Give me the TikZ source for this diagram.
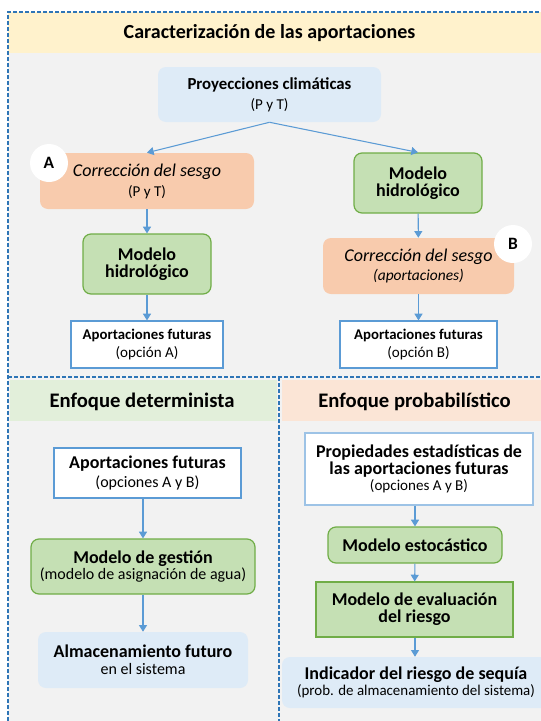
\documentclass[tikz,border=0pt]{standalone}
\usepackage{fontspec}
\setmainfont{Carlito}
\usetikzlibrary{arrows.meta}
\definecolor{yelhd}{HTML}{FFF2CC}
\definecolor{bggray}{HTML}{F2F2F2}
\definecolor{grnhd}{HTML}{E2EFDA}
\definecolor{pchhd}{HTML}{FBE5D6}
\definecolor{ltblue}{HTML}{DEEBF7}
\definecolor{peachfill}{HTML}{F8CBAD}
\definecolor{grnfill}{HTML}{C5E0B4}
\definecolor{grnline}{HTML}{70AD47}
\definecolor{bluline}{HTML}{5B9BD5}
\definecolor{lightbluline}{HTML}{9DC3E6}
\definecolor{dashblue}{HTML}{2E75B6}
\definecolor{arrblue}{HTML}{5B9BD5}
\newcommand{\mainfnt}{\fontsize{13.5}{16}\selectfont\bfseries}
\newcommand{\proyfnt}{\fontsize{12.6}{15}\selectfont\bfseries}
\newcommand{\smallmain}{\fontsize{11.1}{13}\selectfont\bfseries}
\newcommand{\subfnt}{\fontsize{11.3}{13}\selectfont}
\newcommand{\bigsub}{\fontsize{12}{14}\selectfont}
\tikzset{
 base/.style={align=center, inner sep=0pt, text=black},
 bluebox/.style={base, fill=ltblue, rounded corners=6pt},
 peachbox/.style={base, fill=peachfill, rounded corners=6pt},
 greenbox/.style={base, fill=grnfill, draw=grnline, line width=0.9pt, rounded corners=6pt},
 greensq/.style={base, fill=grnfill, draw=grnline, line width=0.9pt},
 whitebox/.style={base, fill=white, draw=bluline, line width=0.9pt},
 whitelight/.style={base, fill=white, draw=lightbluline, line width=0.9pt},
 badge/.style={circle, fill=white, minimum size=28.5pt, inner sep=0pt, font=\fontsize{13}{15}\selectfont\bfseries},
 arr/.style={draw=arrblue, line width=0.8pt, -{Triangle[length=5pt,width=6pt]}},
 divider/.style={draw=dashblue, line width=0.9pt, dash pattern=on 3pt off 1.5pt},
 header/.style={font=\fontsize{15}{18}\selectfont\bfseries, inner sep=0pt},
 subheader/.style={font=\fontsize{15.5}{18}\selectfont\bfseries, inner sep=0pt},
}
\begin{document}
\begin{tikzpicture}[x=0.75pt,y=-0.75pt]
\useasboundingbox (0,0) rectangle (541,721);
% backgrounds
\fill[bggray] (8,12) rectangle (541,721);
\fill[yelhd] (8,12) rectangle (541,53);
\fill[grnhd] (10,380) rectangle (277,421);
\fill[pchhd] (282,380) rectangle (541,421);
\draw[divider] (8,721) -- (8,12) -- (541,12);
\draw[divider] (8,377) -- (541,377);
\draw[divider] (279,377) -- (279,721);
% headers
\node[header] (title) at (269.5,33) {Caracterización de las aportaciones};
\node[subheader] (hdet) at (142,402) {Enfoque determinista};
\node[subheader] (hprob) at (414.5,402) {Enfoque probabilístico};
% top part
\node[bluebox, minimum width=167.25pt, minimum height=41.25pt] (proy) at (269.5,94.5)
  {{\proyfnt Proyecciones climáticas}\\[3pt]{\subfnt (P y T)}};
\node[peachbox, minimum width=160.5pt, minimum height=42pt] (corrA) at (147,181)
  {{\fontsize{13.5}{16}\selectfont\itshape Corrección del sesgo}\\[3pt]{\subfnt (P y T)}};
\node[badge] (bA) at (49,163) {A};
\node[greenbox, minimum width=96pt, minimum height=45pt] (hidA) at (147,264)
  {\mainfnt Modelo\\[1pt]\mainfnt hidrológico};
\node[whitebox, minimum width=114pt, minimum height=35.25pt] (apA) at (147,344.5)
  {{\smallmain Aportaciones futuras}\\[2pt]{\subfnt (opción A)}};
\node[greenbox, minimum width=96pt, minimum height=45pt] (hidB) at (418,183)
  {\mainfnt Modelo\\[1pt]\mainfnt hidrológico};
\node[peachbox, minimum width=143.25pt, minimum height=42pt] (corrB) at (418.5,266)
  {{\fontsize{13.5}{16}\selectfont\itshape Corrección del sesgo}\\[2pt]{\fontsize{11.6}{13}\selectfont\itshape (aportaciones)}};
\node[badge] (bB) at (513,244) {B};
\node[whitebox, minimum width=117.75pt, minimum height=35.25pt] (apB) at (418.5,344.5)
  {{\smallmain Aportaciones futuras}\\[2pt]{\subfnt (opción B)}};
% bottom left
\node[whitebox, minimum width=140.25pt, minimum height=37.5pt] (apAB) at (147.5,473)
  {{\mainfnt Aportaciones futuras}\\[2pt]{\bigsub (opciones A y B)}};
\node[greenbox, minimum width=168pt, minimum height=41.25pt] (gest) at (143,566.5)
  {{\mainfnt Modelo de gestión}\\[0pt]{\bigsub (modelo de asignación de agua)}};
\node[bluebox, minimum width=157.5pt, minimum height=42pt] (alm) at (143,660)
  {{\mainfnt Almacenamiento futuro}\\[1pt]{\bigsub en el sistema}};
% bottom right
\node[whitelight, minimum width=171pt, minimum height=54pt] (prop) at (419,469)
  {{\mainfnt Propiedades estadísticas de}\\[1pt]{\mainfnt las aportaciones futuras}\\[0pt]{\subfnt (opciones A y B)}};
\node[greenbox, minimum width=130.5pt, minimum height=27pt] (esto) at (415,545)
  {\mainfnt Modelo estocástico};
\node[greensq, minimum width=147.75pt, minimum height=41.25pt] (eval) at (414.5,609.5)
  {\mainfnt Modelo de evaluación\\[1pt]\mainfnt del riesgo};
\node[bluebox, minimum width=201pt, minimum height=38.25pt] (ind) at (416,682.5)
  {{\mainfnt Indicador del riesgo de sequía}\\[0pt]{\fontsize{11.2}{13}\selectfont (prob. de almacenamiento del sistema)}};
% connectors
\draw[arr] (proy.south) -- (corrA.north);
\draw[arr] (proy.south) -- (hidB.north);
\draw[arr] (corrA) -- (hidA);
\draw[arr] (hidA) -- (apA);
\draw[arr] (hidB) -- (corrB);
\draw[arr] (corrB) -- (apB);
\draw[arr] (apAB.south -| gest.north) -- (gest.north);
\draw[arr] (gest) -- (alm);
\draw[arr] (esto.north |- prop.south) -- (esto.north);
\draw[arr] (esto) -- (eval);
\draw[arr] (eval.south -| esto.south) -- (ind.north -| esto.south);
\end{tikzpicture}
\end{document}
